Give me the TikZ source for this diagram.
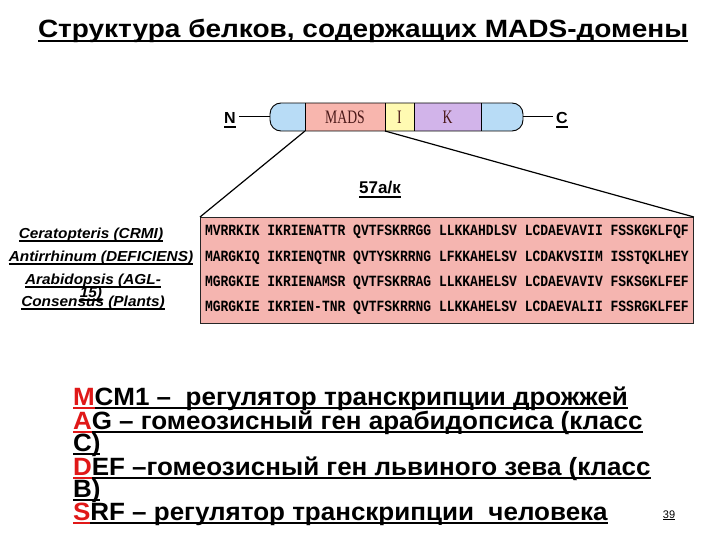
\documentclass[tikz,border=0pt]{standalone}
\usepackage{fontspec}
\setmainfont{Liberation Sans}
\newfontfamily\segfont[FakeStretch=0.72]{Liberation Serif}
\newfontfamily\seqfont{Liberation Mono}
\newfontfamily\titlefont[FakeStretch=1.12]{Liberation Sans}
\newfontfamily\bigfont[FakeStretch=1.04]{Liberation Sans}
\newfontfamily\specfont[FakeStretch=1.06]{Liberation Sans}
\definecolor{mblue}{HTML}{B8DCF6}
\definecolor{mpink}{HTML}{F8B6AE}
\definecolor{myellow}{HTML}{FFFAB2}
\definecolor{mpurple}{HTML}{D2B4EA}
\definecolor{seqpink}{HTML}{F5B5B0}
\definecolor{maroon}{HTML}{4A1818}
\definecolor{mred}{HTML}{E01818}
\tikzset{
  txt/.style={inner sep=0pt, outer sep=0pt},
  seg/.style={inner sep=0pt, outer sep=0pt, minimum height=28pt, text=maroon, font=\segfont\fontsize{19}{19}\selectfont},
  ul/.style={line width=1.4pt, line cap=butt},
  conn/.style={line width=1.2pt},
  species/.style={txt, anchor=base, font=\specfont\bfseries\itshape\fontsize{14.5}{14.5}\selectfont},
  seqrow/.style={txt, anchor=base west, font=\seqfont\bfseries\fontsize{13}{13}\selectfont},
  big/.style={txt, anchor=base west, font=\bigfont\bfseries\fontsize{25}{25}\selectfont},
}
\newcommand\ulnode[2][black]{\draw[ul,#1] ([yshift=-3pt]#2.base west) -- ([yshift=-3pt]#2.base east);}
\begin{document}
\begin{tikzpicture}[x=1pt,y=-1pt]
\useasboundingbox[fill=white] (0,0) rectangle (720,540);
% title
\node[txt, anchor=base west, font=\titlefont\bfseries\fontsize{25}{25}\selectfont] (title) at (38,38) {Структура белков, содержащих MADS-домены};
\ulnode{title}
% protein bar
\begin{scope}
\clip[rounded corners=11pt] (270,103) rectangle (523,131);
\node[seg, fill=mblue, minimum width=35pt] (lcap) at (287.5,117) {};
\node[seg, fill=mpink, minimum width=80pt] (mads) at (345,117) {MADS};
\node[seg, fill=myellow, minimum width=29pt] (idom) at (399.5,117) {I};
\node[seg, fill=mpurple, minimum width=67pt] (kdom) at (447.5,117) {K};
\node[seg, fill=mblue, minimum width=42pt] (rcap) at (502,117) {};
\end{scope}
\draw[line width=0.9pt, rounded corners=11pt] (270,103) rectangle (523,131);
\draw[line width=0.6pt] (mads.north west) -- (mads.south west) (mads.north east) -- (mads.south east)
  (kdom.north west) -- (kdom.south west) (kdom.north east) -- (kdom.south east);
\coordinate (barL) at (270,117);
\coordinate (barR) at (523,117);
\node[txt, font=\bfseries\fontsize{16}{16}\selectfont, anchor=base] (N) at (230,124) {N};
\node[txt, font=\bfseries\fontsize{16}{16}\selectfont, anchor=base] (C) at (562,124) {C};
\ulnode{N}\ulnode{C}
\draw[line width=1pt] (N.east |- barL) ++(3,0) -- (barL);
\draw[line width=1pt] (barR) -- ([xshift=-3pt]C.west |- barR);
% 57 a/k
\node[txt, font=\bfseries\fontsize{17}{17}\selectfont, anchor=base] (len) at (380,194) {57а/к};
\ulnode{len}
% sequence box
\node[draw=black!85, line width=0.9pt, fill=seqpink, minimum width=493pt, minimum height=106pt, inner sep=0pt, anchor=north west] (seqbox) at (200,217) {};
\draw[conn] (mads.south west) -- (seqbox.north west);
\draw[conn] (mads.south east) -- (seqbox.north east);
\node[seqrow] (r1) at (205,236) {\scalebox{1}[1.2]{MVRRKIK IKRIENATTR QVTFSKRRGG LLKKAHDLSV LCDAEVAVII FSSKGKLFQF}};
\node[seqrow] (r2) at (205,261) {\scalebox{1}[1.2]{MARGKIQ IKRIENQTNR QVTYSKRRNG LFKKAHELSV LCDAKVSIIM ISSTQKLHEY}};
\node[seqrow] (r3) at (205,286) {\scalebox{1}[1.2]{MGRGKIE IKRIENAMSR QVTFSKRRAG LLKKAHELSV LCDAEVAVIV FSKSGKLFEF}};
\node[seqrow] (r4) at (205,311) {\scalebox{1}[1.2]{MGRGKIE IKRIEN-TNR QVTFSKRRNG LLKKAHELSV LCDAEVALII FSSRGKLFEF}};
% species
\node[species] (s1) at (91,238) {Ceratopteris (CRMI)};
\node[species] (s2) at (101,261) {Antirrhinum (DEFICIENS)};
\node[species] (s3) at (93,284) {Arabidopsis (AGL-};
\node[species] (s3b) at (91,297) {15)};
\node[species] (s4) at (93,306) {Consensus (Plants)};
\ulnode{s1}\ulnode{s2}\ulnode{s3}\ulnode{s3b}\ulnode{s4}
% bottom text
\node[big, text=mred] (m1) at (73,405) {M};
\node[big] (m2) at (m1.base east) {CM1 –~ регулятор транскрипции дрожжей};
\node[big, text=mred] (a1) at (73,429) {A};
\node[big] (a2) at (a1.base east) {G – гомеозисный ген арабидопсиса (класс};
\node[big] (c1) at (73,451) {C)};
\node[big, text=mred] (d1) at (73,475) {D};
\node[big] (d2) at (d1.base east) {EF –гомеозисный ген львиного зева (класс};
\node[big] (b1) at (73,497) {B)};
\node[big, text=mred] (sr1) at (73,520) {S};
\node[big] (sr2) at (sr1.base east) {RF – регулятор транскрипции~ человека};
\ulnode[mred]{m1}\ulnode{m2}\ulnode[mred]{a1}\ulnode{a2}\ulnode{c1}
\ulnode[mred]{d1}\ulnode{d2}\ulnode{b1}\ulnode[mred]{sr1}\ulnode{sr2}
\node[txt, anchor=base, font=\fontsize{11}{11}\selectfont] (pg) at (669,518) {39};
\draw[line width=0.7pt] ([yshift=-1.5pt]pg.base west) -- ([yshift=-1.5pt]pg.base east);
\end{tikzpicture}
\end{document}
